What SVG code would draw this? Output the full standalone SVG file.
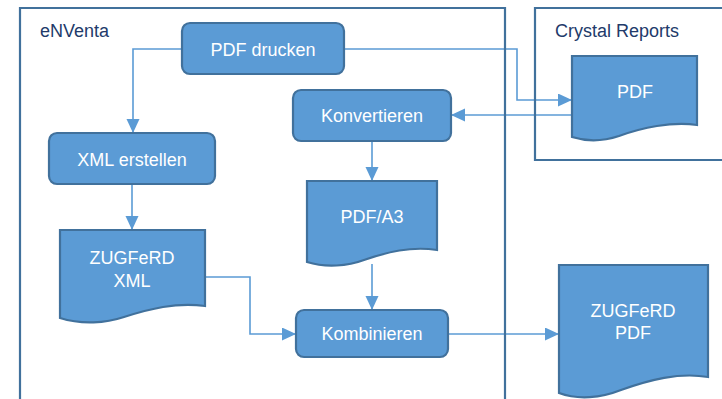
<svg xmlns="http://www.w3.org/2000/svg" width="722" height="399" viewBox="0 0 722 399">
<defs>
<style>
.frame{fill:none;stroke:#41719C;stroke-width:2.2}
.title{font-family:"Liberation Sans",Arial,sans-serif;font-size:18px;fill:#223A6A}
.node{fill:#5B9BD5;stroke:#41719C;stroke-width:2.2}
.lbl{font-family:"Liberation Sans",Arial,sans-serif;font-size:18px;fill:#FFFFFF;text-anchor:middle}
.conn{fill:none;stroke:#5B9BD5;stroke-width:1.6}
</style>
<marker id="arr" markerUnits="userSpaceOnUse" markerWidth="16" markerHeight="14" refX="14" refY="6.5" orient="auto">
<path d="M0,0 L14,6.5 L0,13 Z" fill="#5B9BD5"/>
</marker>
</defs>
<rect width="722" height="399" fill="#FFFFFF"/>
<g id="connectors">
<path class="conn" d="M182,49 H133 V133" marker-end="url(#arr)"/>
<path class="conn" d="M344,49 H517 V100 H572" marker-end="url(#arr)"/>
<path class="conn" d="M572,115 H451" marker-end="url(#arr)"/>
<path class="conn" d="M132,184 V230" marker-end="url(#arr)"/>
<path class="conn" d="M372,141 V181" marker-end="url(#arr)"/>
<path class="conn" d="M372,264 V310" marker-end="url(#arr)"/>
<path class="conn" d="M205,277 H250 V334 H296" marker-end="url(#arr)"/>
<path class="conn" d="M448,334 H559" marker-end="url(#arr)"/>
</g>
<g id="frame-enventa">
<path class="frame" d="M20,410 V8 H505 V410"/>
<text class="title" x="40" y="37">eNVenta</text>
</g>
<g id="frame-crystal">
<path class="frame" d="M730,160 H535 V8 H730"/>
<text class="title" x="555" y="37">Crystal Reports</text>
</g>
<g id="pdf-drucken">
<rect class="node" x="182" y="23" width="162" height="51" rx="8"/>
<text class="lbl" x="263" y="56">PDF drucken</text>
</g>
<g id="xml-erstellen">
<rect class="node" x="49" y="133" width="166" height="51" rx="8"/>
<text class="lbl" x="132" y="166">XML erstellen</text>
</g>
<g id="konvertieren">
<rect class="node" x="293" y="90" width="158" height="51" rx="8"/>
<text class="lbl" x="372" y="122">Konvertieren</text>
</g>
<g id="kombinieren">
<rect class="node" x="296" y="310" width="152" height="47" rx="8"/>
<text class="lbl" x="372" y="340">Kombinieren</text>
</g>
<g id="crystal-pdf">
<path class="node" d="M572,56 H697 V125 C672,121 641,128 619,136 C604,141 588,142 572,137 Z"/>
<text class="lbl" x="635" y="98">PDF</text>
</g>
<g id="pdf-a3">
<path class="node" d="M307,181 H437 V250 C411,246 387,252 364,260 C348,266 326,268 307,262 Z"/>
<text class="lbl" x="372" y="223">PDF/A3</text>
</g>
<g id="zugferd-xml">
<path class="node" d="M60,230 H205 V306 C176,302 149,309 124,317 C106,323 82,325 60,318 Z"/>
<text class="lbl" x="132" y="264">ZUGFeRD</text>
<text class="lbl" x="132" y="287">XML</text>
</g>
<g id="zugferd-pdf">
<path class="node" d="M559,265 H708 V377 C679,372 649,380 621,390 C601,398 578,400 559,393 Z"/>
<text class="lbl" x="633" y="317">ZUGFeRD</text>
<text class="lbl" x="633" y="339">PDF</text>
</g>
</svg>
